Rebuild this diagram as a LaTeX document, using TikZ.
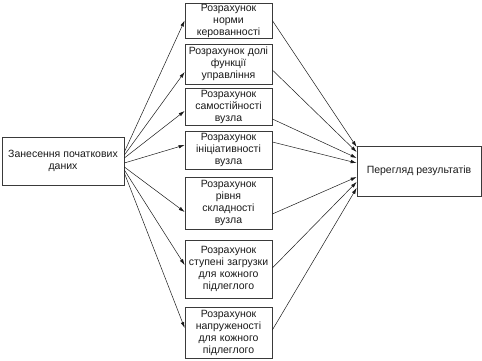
\documentclass[tikz,border=0pt]{standalone}
\usepackage{fontspec}
\setmainfont{Liberation Sans}
\usepackage{tikz}
\usetikzlibrary{arrows.meta,calc,positioning}
\usepackage{xcolor}
\definecolor{ink}{HTML}{1A1A1A}
\definecolor{edge}{HTML}{3A3A3A}
\tikzset{flowbox/.style={draw=edge,line width=.7pt,fill=white,inner sep=0pt,align=center,font=\fontsize{10.5}{12}\selectfont,text=ink},calcbox/.style={flowbox,minimum width=87pt,text width=87pt},flowarrow/.style={draw=ink,line width=.5pt,-{Latex[length=6pt,width=3.6pt]}}}

\begin{document}
\begin{tikzpicture}[x=1pt,y=1pt]
\useasboundingbox (0,0) rectangle (482,361);
\node[flowbox,minimum width=122pt,minimum height=48pt] (entry) at (63,200) {Занесення початкових\\даних};
\node[calcbox,minimum height=35pt] (c1) at (228.5,340.5) {Розрахунок\\норми\\керованності};
\node[calcbox,minimum height=40pt] (c2) at (228.5,297) {Розрахунок долі\\функції\\управління};
\node[calcbox,minimum height=37pt] (c3) at (228.5,254.5) {Розрахунок\\самостійності\\вузла};
\node[calcbox,minimum height=38pt] (c4) at (228.5,211) {Розрахунок\\ініціативності\\вузла};
\node[calcbox,minimum height=52pt] (c5) at (228.5,158) {Розрахунок\\рівня\\складності\\вузла};
\node[calcbox,minimum height=58pt] (c6) at (228.5,92) {Розрахунок\\ступені загрузки\\для кожного\\підлеглого};
\node[calcbox,minimum height=51pt] (c7) at (228.5,28.5) {Розрахунок\\напруженості\\для кожного\\підлеглого};
\node[flowbox,minimum width=124pt,minimum height=50pt] (review) at (419,190) {Перегляд результатів};
% offsets: entry side, box west, box east, review side
\foreach \n/\a/\b/\c/\d in {1/9/0/0/24,2/6/-8/-6/19,3/3/-4.5/-12.5/13,4/-2/5/8/8,5/-6/-9/-11/-6,6/-9/4/1/-11,7/-12/4.5/2.5/-17}{
\draw[flowarrow] ($(entry.east)+(0,\a)$) -- ($(c\n.west)+(0,\b)$);
\draw[flowarrow] ($(c\n.east)+(0,\c)$) -- ($(review.west)+(0,\d)$);}
\end{tikzpicture}
\end{document}
